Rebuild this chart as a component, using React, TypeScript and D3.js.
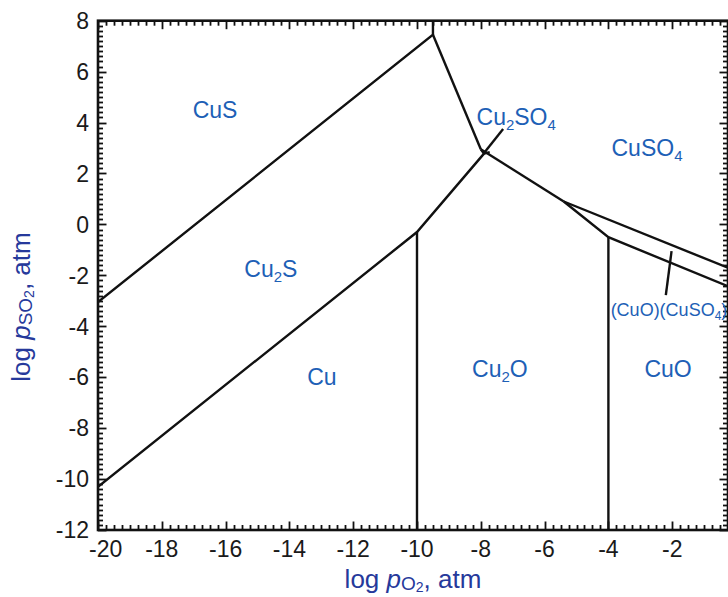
import React from "react";
import * as d3 from "d3";

// Cu–S–O predominance diagram: log pSO2 vs log pO2
const X_DOMAIN: [number, number] = [-20, 0];
const Y_DOMAIN: [number, number] = [-12, 8];
const X_TICKS = [-20, -18, -16, -14, -12, -10, -8, -6, -4, -2];
const Y_TICKS = [-12, -10, -8, -6, -4, -2, 0, 2, 4, 6, 8];
const X_MINOR_STEP = 0.25;
const Y_MINOR_STEP = 0.2;

// phase boundaries as [log pO2, log pSO2] polylines
const CUS_CU2S = [[-20, -3.05], [-9.5, 7.45], [-9.5, 8]];
const CUS_CU2SO4 = [[-9.5, 7.45], [-8.0, 2.95]];
const CU2S_CU = [[-20, -10.3], [-10, -0.3], [-7.9, 2.78]];
const CU_CU2O = [[-10, -0.3], [-10, -12]];
const TRIPLE = [[-8.0, 2.95], [-7.9, 2.78], [-7.72, 2.84]];
const CU2SO4_CUSO4 = [[-8.0, 2.95], [-5.4, 0.9]];
const CUSO4_BASIC = [[-5.4, 0.9], [0, -1.83]];
const BASIC_CUO = [[-5.4, 0.9], [-4, -0.5], [0, -2.56]];
const CU2O_CUO = [[-4, -0.5], [-4, -12]];
const BOUNDARIES = [CUS_CU2S, CUS_CU2SO4, CU2S_CU, CU_CU2O, TRIPLE, CU2SO4_CUSO4, CUSO4_BASIC, BASIC_CUO, CU2O_CUO];

// leader lines for the narrow fields
const LEADERS = [
  [[-7.3, 3.75], [-7.88, 2.83]],
  [[-2.02, -1.05], [-2.2, -2.78]],
];

// field labels: text parts with optional subscripts, anchored at [log pO2, log pSO2]
type Part = { t: string; sub?: boolean };
const FIELD_NAMES: Part[][] = [
  [{ t: "CuS" }],
  [{ t: "Cu" }, { t: "2", sub: true }, { t: "S" }],
  [{ t: "Cu" }],
  [{ t: "Cu" }, { t: "2", sub: true }, { t: "O" }],
  [{ t: "CuO" }],
  [{ t: "CuSO" }, { t: "4", sub: true }],
  [{ t: "Cu" }, { t: "2", sub: true }, { t: "SO" }, { t: "4", sub: true }],
  [{ t: "(CuO)(CuSO" }, { t: "4", sub: true }, { t: ")" }],
];
const FIELD_POS = [
  [-16.33, 4.17],
  [-14.58, -2.08],
  [-12.98, -6.32],
  [-7.4, -6.0],
  [-2.13, -6.0],
  [-2.79, 2.7],
  [-6.89, 3.9],
  [-3.93, -3.6],
];
const FIELD_SIZE = [23, 23, 23, 23, 23, 23, 23, 18];
const FIELD_ANCHOR = ["middle", "middle", "middle", "middle", "middle", "middle", "middle", "start"];

const FONT = "'Liberation Sans', Arial, Helvetica, sans-serif";
const FIELD_COLOR = "#1d60b6";
const TITLE_COLOR = "#26399b";

type Tick = { x1: number; y1: number; x2: number; y2: number };

export default function App() {
  const W = 728;
  const H = 597;
  const left = 98;
  const right = 728;
  const top = 20.7;
  const bottom = 530;

  const x = d3.scaleLinear().domain(X_DOMAIN).range([left, 736]);
  const y = d3.scaleLinear().domain(Y_DOMAIN).range([bottom, top]);
  const line = d3
    .line<number[]>()
    .x((d) => x(d[0]))
    .y((d) => y(d[1]));

  const nX = Math.round((X_DOMAIN[1] - X_DOMAIN[0]) / X_MINOR_STEP);
  const nY = Math.round((Y_DOMAIN[1] - Y_DOMAIN[0]) / Y_MINOR_STEP);
  const majorLen = 8.5;
  const minorLen = 5;

  // inward ticks on all four sides
  const ticks: Tick[] = [];
  for (let i = 0; i <= nX; i++) {
    const v = X_DOMAIN[0] + i * X_MINOR_STEP;
    const px = Math.round(x(v)) + 0.5;
    if (px > right) continue;
    const len = i % 8 === 0 ? majorLen : minorLen;
    ticks.push({ x1: px, y1: bottom, x2: px, y2: bottom - len });
    ticks.push({ x1: px, y1: top, x2: px, y2: top + len });
  }
  for (let i = 0; i <= nY; i++) {
    const v = Y_DOMAIN[0] + i * Y_MINOR_STEP;
    const py = Math.round(y(v)) + 0.5;
    const len = i % 10 === 0 ? majorLen : minorLen;
    ticks.push({ x1: left, y1: py, x2: left + len, y2: py });
    ticks.push({ x1: right, y1: py, x2: right - len, y2: py });
  }

  return (
    <svg
      width={W}
      height={H}
      style={{ position: "absolute", left: 0, top: 0, background: "#fff" }}
      fontFamily={FONT}
    >
      <defs>
        <clipPath id="plot">
          <rect x={left} y={top} width={right - left} height={bottom - top} />
        </clipPath>
      </defs>
      <rect width={W} height={H} fill="#fff" />

      {/* phase boundaries */}
      <g clipPath="url(#plot)" fill="none" stroke="#111" strokeWidth={2.4} strokeLinejoin="miter">
        {BOUNDARIES.map((b, i) => (
          <path key={i} d={line(b) ?? ""} />
        ))}
        {LEADERS.map((b, i) => (
          <path key={"l" + i} d={line(b) ?? ""} />
        ))}
      </g>

      {/* ticks */}
      {ticks.map((t, i) => (
        <line key={"t" + i} x1={t.x1} y1={t.y1} x2={t.x2} y2={t.y2} stroke="#111" strokeWidth={1.8} />
      ))}

      {/* frame */}
      <rect x={left} y={top} width={right - left} height={bottom - top} fill="none" stroke="#111" strokeWidth={2.6} />

      {/* tick labels */}
      <g fontSize={23} fill="#1a1a1a">
        {X_TICKS.map((v, i) => (
          <text
            key={"xl" + v}
            x={i === 0 ? x(v) - 9 : x(v)}
            y={557}
            textAnchor={i === 0 ? "start" : "middle"}
          >
            {String(v)}
          </text>
        ))}
        {Y_TICKS.map((v) => (
          <text key={"yl" + v} x={89} y={y(v)} dy="0.36em" textAnchor="end">
            {String(v)}
          </text>
        ))}
      </g>

      {/* field labels */}
      <g fill={FIELD_COLOR}>
        {FIELD_NAMES.map((parts, i) => {
          const fs = FIELD_SIZE[i];
          const subFs = Math.round(fs * 0.65);
          const shift = Math.round(fs * 0.22);
          let offset = 0;
          return (
            <text
              key={"f" + i}
              x={x(FIELD_POS[i][0])}
              y={y(FIELD_POS[i][1])}
              fontSize={fs}
              textAnchor={FIELD_ANCHOR[i]}
            >
              {parts.map((p, j) => {
                let dy = 0;
                if (p.sub && offset === 0) {
                  dy = shift;
                  offset = shift;
                } else if (!p.sub && offset !== 0) {
                  dy = -offset;
                  offset = 0;
                }
                return (
                  <tspan key={j} dy={dy} fontSize={p.sub ? subFs : fs}>
                    {p.t}
                  </tspan>
                );
              })}
            </text>
          );
        })}
      </g>

      {/* axis titles */}
      <text x={(left + right) / 2} y={588} fontSize={26} fill={TITLE_COLOR} textAnchor="middle">
        <tspan>log </tspan>
        <tspan fontStyle="italic">p</tspan>
        <tspan fontSize={19} dy={2}>O</tspan>
        <tspan fontSize={14} dy={2}>2</tspan>
        <tspan fontSize={26} dy={-4}>, atm</tspan>
      </text>
      <text
        transform={`translate(30, 307) rotate(-90)`}
        fontSize={26}
        fill={TITLE_COLOR}
        textAnchor="middle"
      >
        <tspan>log </tspan>
        <tspan fontStyle="italic">p</tspan>
        <tspan fontSize={19} dy={2}>SO</tspan>
        <tspan fontSize={14} dy={2}>2</tspan>
        <tspan fontSize={26} dy={-4}>, atm</tspan>
      </text>
    </svg>
  );
}
